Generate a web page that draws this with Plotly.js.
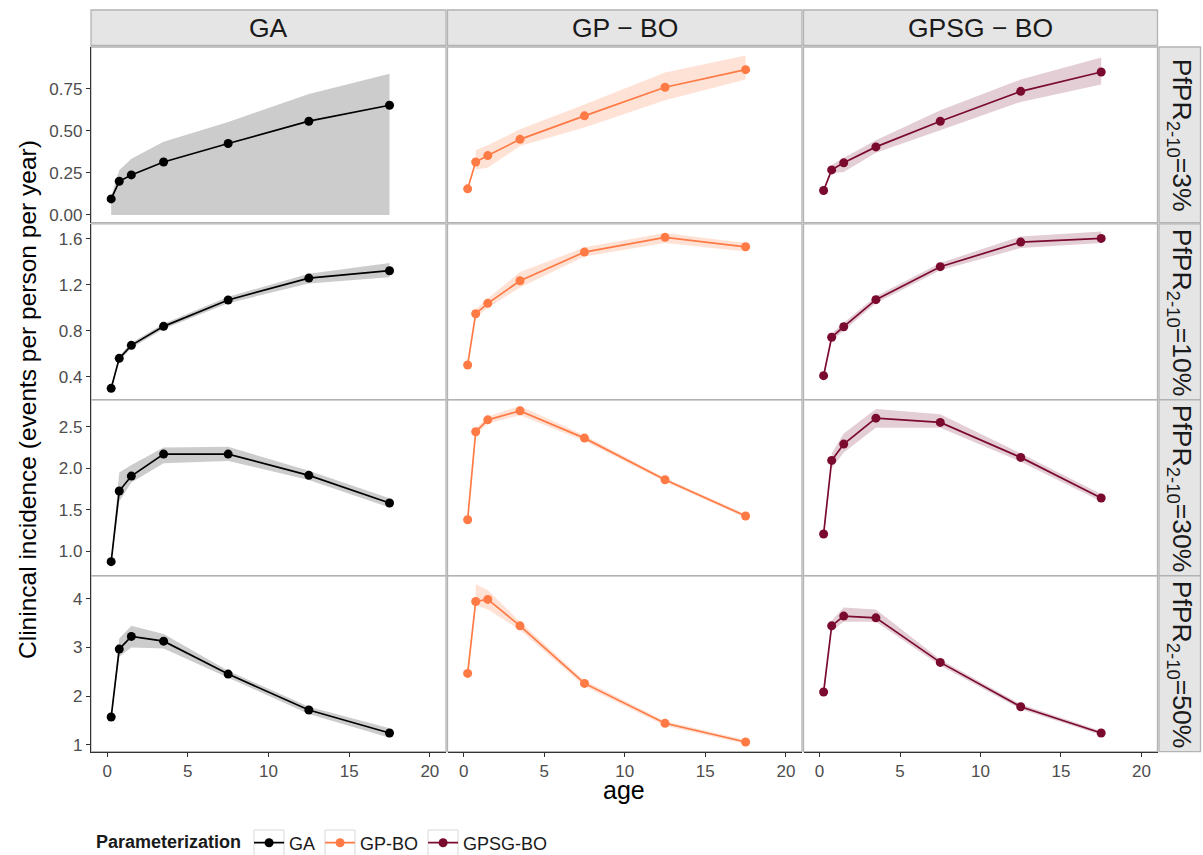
<!DOCTYPE html>
<html>
<head>
<meta charset="utf-8">
<script src="https://cdn.plot.ly/plotly-3.0.1.min.js"></script>
<style>html,body{margin:0;padding:0;background:#fff;}#chart{width:1203px;height:855px;}</style>
</head>
<body>
<div id="chart"></div>
<script>
// ---------- data ----------
const ages = [0.25, 0.75, 1.5, 3.5, 7.5, 12.5, 17.5];
const methods = ['GA', 'GP-BO', 'GPSG-BO'];
const stripCols = ['GA', 'GP \u2212 BO', 'GPSG \u2212 BO'];
const prevalence = ['3%', '10%', '30%', '50%'];
const xTicks = [0, 5, 10, 15, 20];

// GA
const ga3    = [0.095, 0.200, 0.238, 0.315, 0.425, 0.558, 0.653];
const ga3Lo  = [0.000, 0.000, 0.000, 0.000, 0.000, 0.000, 0.000];
const ga3Hi  = [0.110, 0.266, 0.335, 0.435, 0.553, 0.720, 0.840];
const ga10   = [0.299, 0.560, 0.673, 0.838, 1.067, 1.258, 1.322];
const ga10Lo = [0.285, 0.535, 0.650, 0.815, 1.040, 1.210, 1.265];
const ga10Hi = [0.310, 0.580, 0.695, 0.860, 1.095, 1.295, 1.390];
const ga30   = [0.877, 1.727, 1.907, 2.172, 2.172, 1.916, 1.583];
const ga30Lo = [0.860, 1.600, 1.830, 2.060, 2.090, 1.860, 1.530];
const ga30Hi = [0.900, 1.950, 2.040, 2.250, 2.260, 1.970, 1.640];
const ga50   = [1.569, 2.966, 3.227, 3.130, 2.453, 1.713, 1.240];
const ga50Lo = [1.540, 2.810, 3.000, 2.980, 2.385, 1.630, 1.145];
const ga50Hi = [1.600, 3.186, 3.446, 3.275, 2.520, 1.780, 1.337];

// GP-BO (no interval at the youngest age group)
const gp3    = [0.155, 0.315, 0.353, 0.450, 0.590, 0.760, 0.865];
const gp3Lo  = [null, 0.270, 0.280, 0.410, 0.520, 0.683, 0.806];
const gp3Hi  = [null, 0.385, 0.415, 0.510, 0.657, 0.848, 0.950];
const gp10   = [0.502, 0.948, 1.038, 1.235, 1.484, 1.612, 1.530];
const gp10Lo = [null, 0.910, 1.000, 1.175, 1.445, 1.563, 1.490];
const gp10Hi = [null, 0.985, 1.080, 1.310, 1.525, 1.650, 1.563];
const gp30   = [1.382, 2.440, 2.584, 2.692, 2.364, 1.863, 1.427];
const gp30Lo = [null, 2.400, 2.540, 2.640, 2.330, 1.840, 1.405];
const gp30Hi = [null, 2.480, 2.625, 2.752, 2.400, 1.885, 1.450];
const gp50   = [2.466, 3.946, 3.988, 3.445, 2.261, 1.440, 1.055];
const gp50Lo = [null, 3.870, 3.780, 3.360, 2.200, 1.390, 1.015];
const gp50Hi = [null, 4.300, 4.180, 3.530, 2.320, 1.490, 1.095];

// GPSG-BO (no interval at the youngest age group)
const gs3    = [0.145, 0.268, 0.310, 0.405, 0.558, 0.736, 0.851];
const gs3Lo  = [null, 0.250, 0.256, 0.370, 0.504, 0.673, 0.776];
const gs3Hi  = [null, 0.296, 0.340, 0.445, 0.623, 0.806, 0.937];
const gs10   = [0.409, 0.743, 0.835, 1.070, 1.357, 1.571, 1.603];
const gs10Lo = [null, 0.710, 0.800, 1.040, 1.325, 1.519, 1.563];
const gs10Hi = [null, 0.775, 0.870, 1.100, 1.390, 1.620, 1.664];
const gs30   = [1.210, 2.096, 2.292, 2.604, 2.553, 2.132, 1.643];
const gs30Lo = [null, 2.000, 2.190, 2.490, 2.490, 2.080, 1.600];
const gs30Hi = [null, 2.180, 2.420, 2.713, 2.652, 2.180, 1.690];
const gs50   = [2.083, 3.445, 3.645, 3.610, 2.693, 1.781, 1.240];
const gs50Lo = [null, 3.340, 3.530, 3.530, 2.630, 1.730, 1.200];
const gs50Hi = [null, 3.550, 3.820, 3.780, 2.750, 1.830, 1.280];

// ---------- styling ----------
const W = 1203, H = 855;
const lineColors = ['#000000', '#FF7A45', '#7A0A2E'];
const fillColors = ['rgba(0,0,0,0.2)', 'rgba(255,122,69,0.22)', 'rgba(122,10,46,0.2)'];
const colPx = [[91, 446], [447.5, 802], [803.5, 1157.5]];
const rowPx = [[47, 222.6], [223.8, 399.7], [399.9, 575.7], [575.9, 751.7]];
const yRanges = [[-0.046, 1.0], [0.2, 1.73], [0.708, 2.824], [0.856, 4.472]];
const yTickVals = [[0, 0.25, 0.5, 0.75], [0.4, 0.8, 1.2, 1.6], [1.0, 1.5, 2.0, 2.5], [1, 2, 3, 4]];
const yTickFmt = ['.2f', '.1f', '.1f', '.0f'];
const legendKeyPx = [[254, 284], [325, 355], [428, 458]];

const means = [[ga3, gp3, gs3], [ga10, gp10, gs10], [ga30, gp30, gs30], [ga50, gp50, gs50]];
const lows  = [[ga3Lo, gp3Lo, gs3Lo], [ga10Lo, gp10Lo, gs10Lo], [ga30Lo, gp30Lo, gs30Lo], [ga50Lo, gp50Lo, gs50Lo]];
const highs = [[ga3Hi, gp3Hi, gs3Hi], [ga10Hi, gp10Hi, gs10Hi], [ga30Hi, gp30Hi, gs30Hi], [ga50Hi, gp50Hi, gs50Hi]];

const FONT = 'Liberation Sans, Arial, Helvetica, sans-serif';
const TICKFONT = {family: FONT, size: 17, color: '#4d4d4d'};
const px2x = p => p / W;
const px2y = p => 1 - p / H;

const traces = [];
const layout = {
  width: W, height: H,
  margin: {l: 0, r: 0, t: 0, b: 0, autoexpand: false},
  paper_bgcolor: '#ffffff',
  plot_bgcolor: 'rgba(0,0,0,0)',
  font: {family: FONT, color: '#1a1a1a'},
  showlegend: true,
  legend: {
    orientation: 'h',
    x: px2x(94), xanchor: 'left',
    y: px2y(843), yanchor: 'middle',
    font: {family: FONT, size: 18, color: '#1a1a1a'},
    title: {text: '<b>Parameterization</b>', font: {family: FONT, size: 18, color: '#1a1a1a'}, side: 'left'},
    bgcolor: 'rgba(0,0,0,0)',
    itemwidth: 30,
    traceorder: 'normal'
  },
  shapes: [],
  annotations: []
};

for (let r = 0; r < 4; r++) {
  for (let c = 0; c < 3; c++) {
    const i = r * 3 + c + 1;
    const xa = i === 1 ? 'x' : 'x' + i;
    const ya = i === 1 ? 'y' : 'y' + i;
    const xKey = i === 1 ? 'xaxis' : 'xaxis' + i;
    const yKey = i === 1 ? 'yaxis' : 'yaxis' + i;

    // ribbon (only where an interval exists)
    const rx = [], rhi = [], rlo = [];
    ages.forEach((a, k) => {
      if (highs[r][c][k] !== null && lows[r][c][k] !== null) {
        rx.push(a); rhi.push(highs[r][c][k]); rlo.push(lows[r][c][k]);
      }
    });
    traces.push({
      type: 'scatter', mode: 'lines', xaxis: xa, yaxis: ya,
      x: rx.concat(rx.slice().reverse()),
      y: rhi.concat(rlo.slice().reverse()),
      fill: 'toself', fillcolor: fillColors[c],
      line: {width: 0, color: 'rgba(0,0,0,0)'},
      hoverinfo: 'skip', showlegend: false, legendgroup: methods[c]
    });
    // line + points
    traces.push({
      type: 'scatter', mode: 'lines+markers', xaxis: xa, yaxis: ya,
      x: ages, y: means[r][c],
      name: methods[c], legendgroup: methods[c],
      showlegend: r === 0,
      line: {color: lineColors[c], width: 1.7},
      marker: {color: lineColors[c], size: 9}
    });

    const bottom = r === 3, left = c === 0;
    layout[xKey] = {
      domain: [px2x(colPx[c][0]), px2x(colPx[c][1])],
      anchor: ya, range: [-1, 21],
      tickvals: xTicks, showticklabels: bottom,
      ticks: bottom ? 'outside' : '', ticklen: 4, tickcolor: '#333333',
      tickfont: TICKFONT,
      showgrid: false, zeroline: false,
      showline: bottom, linecolor: '#333333', linewidth: 1.2
    };
    layout[yKey] = {
      domain: [px2y(rowPx[r][1]), px2y(rowPx[r][0])],
      anchor: xa, range: yRanges[r],
      tickvals: yTickVals[r], tickformat: yTickFmt[r], showticklabels: left,
      ticks: left ? 'outside' : '', ticklen: 4, tickcolor: '#333333',
      tickfont: TICKFONT,
      showgrid: false, zeroline: false,
      showline: left, linecolor: '#333333', linewidth: 1.2
    };

    // panel border
    layout.shapes.push({
      type: 'rect', xref: 'paper', yref: 'paper', layer: 'below',
      x0: px2x(colPx[c][0]), x1: px2x(colPx[c][1]),
      y0: px2y(rowPx[r][1]), y1: px2y(rowPx[r][0]),
      line: {color: '#b3b3b3', width: 1.3}, fillcolor: 'rgba(0,0,0,0)'
    });
  }
}

// column strips
for (let c = 0; c < 3; c++) {
  layout.shapes.push({
    type: 'rect', xref: 'paper', yref: 'paper', layer: 'below',
    x0: px2x(colPx[c][0]), x1: px2x(colPx[c][1]),
    y0: px2y(45.5), y1: px2y(10),
    line: {color: '#b3b3b3', width: 1.3}, fillcolor: '#e5e5e5'
  });
  layout.annotations.push({
    xref: 'paper', yref: 'paper', showarrow: false,
    x: px2x((colPx[c][0] + colPx[c][1]) / 2), y: px2y(28),
    xanchor: 'center', yanchor: 'middle',
    text: stripCols[c], font: {family: FONT, size: 26.5, color: '#1a1a1a'}
  });
}
// row strips
for (let r = 0; r < 4; r++) {
  layout.shapes.push({
    type: 'rect', xref: 'paper', yref: 'paper', layer: 'below',
    x0: px2x(1159), x1: px2x(1200.5),
    y0: px2y(rowPx[r][1]), y1: px2y(rowPx[r][0]),
    line: {color: '#b3b3b3', width: 1.3}, fillcolor: '#e5e5e5'
  });
  layout.annotations.push({
    xref: 'paper', yref: 'paper', showarrow: false,
    x: px2x(1180), y: px2y((rowPx[r][0] + rowPx[r][1]) / 2),
    xanchor: 'center', yanchor: 'middle', textangle: 90,
    text: 'PfPR<sub>2-10</sub>=' + prevalence[r],
    font: {family: FONT, size: 26.5, color: '#1a1a1a'}
  });
}
// legend key boxes (ggplot-style)
legendKeyPx.forEach(k => {
  layout.shapes.push({
    type: 'rect', xref: 'paper', yref: 'paper', layer: 'below',
    x0: px2x(k[0]), x1: px2x(k[1]), y0: px2y(856), y1: px2y(830),
    line: {color: '#d9d9d9', width: 1}, fillcolor: '#ffffff'
  });
});
// axis titles
layout.annotations.push({
  xref: 'paper', yref: 'paper', showarrow: false,
  x: px2x(27), y: px2y(400), xanchor: 'center', yanchor: 'middle', textangle: -90,
  text: 'Clinincal incidence (events per person per year)',
  font: {family: FONT, size: 24.5, color: '#000000'}
});
layout.annotations.push({
  xref: 'paper', yref: 'paper', showarrow: false,
  x: px2x(624), y: px2y(790), xanchor: 'center', yanchor: 'middle',
  text: 'age', font: {family: FONT, size: 25, color: '#000000'}
});

Plotly.newPlot('chart', traces, layout, {displayModeBar: false, staticPlot: true});
</script>
</body>
</html>
